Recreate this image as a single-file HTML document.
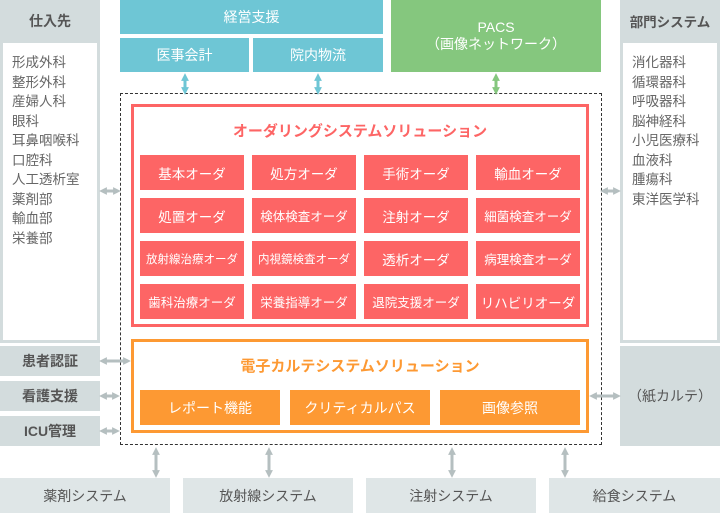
<!DOCTYPE html><html><head><meta charset="utf-8"><style>
body{margin:0;width:720px;height:513px;position:relative;background:#fff;font-family:"Liberation Sans","Noto Sans CJK JP",sans-serif;overflow:hidden}
.a{position:absolute;display:flex;align-items:center;justify-content:center;box-sizing:border-box;text-align:center}
.g{background:#d3dcdd;color:#555;font-size:14px;font-weight:bold}
.w{background:#fff;position:absolute}
.list{position:absolute;font-size:13.5px;color:#666;line-height:19.5px}
.t{background:#6ec6d5;color:#fff;font-size:14px}
.r{background:#fd6565;color:#fff;font-size:13.5px;width:104px;height:35px}
.o{background:#fd9933;color:#fff;font-size:14px;width:140px;height:35px}
.b{background:#dfe6e7;color:#555;font-size:14px}
svg{position:absolute;left:0;top:0}
</style></head><body>
<div class="a g" style="left:0;top:0;width:100px;height:343px;align-items:flex-start;padding-top:11px">仕入先</div>
<div class="w" style="left:3px;top:43px;width:94px;height:297px"></div>
<div class="list" style="left:12px;top:53px">形成外科<br>整形外科<br>産婦人科<br>眼科<br>耳鼻咽喉科<br>口腔科<br>人工透析室<br>薬剤部<br>輸血部<br>栄養部</div>
<div class="a g" style="left:620px;top:0;width:100px;height:343px;align-items:flex-start;padding-top:11px;font-size:13.5px">部門システム</div>
<div class="w" style="left:623px;top:43px;width:94px;height:297px"></div>
<div class="list" style="left:632px;top:53px">消化器科<br>循環器科<br>呼吸器科<br>脳神経科<br>小児医療科<br>血液科<br>腫瘍科<br>東洋医学科</div>
<div class="a g" style="left:0;top:346px;width:100px;height:30px">患者認証</div>
<div class="a g" style="left:0;top:381px;width:100px;height:30px">看護支援</div>
<div class="a g" style="left:0;top:416px;width:100px;height:30px">ICU管理</div>
<div class="a g" style="left:620px;top:346px;width:100px;height:100px;font-weight:normal;color:#555;font-size:14px">（紙カルテ）</div>
<div class="a t" style="left:120px;top:0;width:263px;height:34px">経営支援</div>
<div class="a t" style="left:120px;top:38px;width:129px;height:34px">医事会計</div>
<div class="a t" style="left:253px;top:38px;width:130px;height:34px">院内物流</div>
<div class="a" style="left:391px;top:0;width:210px;height:72px;background:#85c77e;color:#fff;font-size:14px;line-height:17px">PACS<br>（画像ネットワーク）</div>
<div style="position:absolute;left:120px;top:93px;width:482px;height:352px;border:1px dashed #333;box-sizing:border-box"></div>
<div style="position:absolute;left:131px;top:104px;width:458px;height:223px;border:3px solid #fd6565;box-sizing:border-box"></div>
<div class="a" style="left:131px;top:119px;width:458px;height:22px;color:#fd6565;font-size:15px;font-weight:bold">オーダリングシステムソリューション</div>
<div class="a r" style="left:140px;top:155px">基本オーダ</div><div class="a r" style="left:252px;top:155px">処方オーダ</div><div class="a r" style="left:364px;top:155px">手術オーダ</div><div class="a r" style="left:476px;top:155px">輸血オーダ</div>
<div class="a r" style="left:140px;top:198px">処置オーダ</div><div class="a r" style="left:252px;top:198px;font-size:12.5px">検体検査オーダ</div><div class="a r" style="left:364px;top:198px">注射オーダ</div><div class="a r" style="left:476px;top:198px;font-size:12.5px">細菌検査オーダ</div>
<div class="a r" style="left:140px;top:241px;font-size:11.5px">放射線治療オーダ</div><div class="a r" style="left:252px;top:241px;font-size:11.5px">内視鏡検査オーダ</div><div class="a r" style="left:364px;top:241px">透析オーダ</div><div class="a r" style="left:476px;top:241px;font-size:12.5px">病理検査オーダ</div>
<div class="a r" style="left:140px;top:284px;font-size:12.5px">歯科治療オーダ</div><div class="a r" style="left:252px;top:284px;font-size:12.5px">栄養指導オーダ</div><div class="a r" style="left:364px;top:284px;font-size:12.5px">退院支援オーダ</div><div class="a r" style="left:476px;top:284px">リハビリオーダ</div>
<div style="position:absolute;left:131px;top:339px;width:458px;height:94px;border:3px solid #fd9933;box-sizing:border-box"></div>
<div class="a" style="left:131px;top:354px;width:458px;height:22px;color:#fd9933;font-size:15px;font-weight:bold">電子カルテシステムソリューション</div>
<div class="a o" style="left:140px;top:390px">レポート機能</div><div class="a o" style="left:290px;top:390px">クリティカルパス</div><div class="a o" style="left:440px;top:390px">画像参照</div>
<div class="a b" style="left:0;top:478px;width:170px;height:35px">薬剤システム</div>
<div class="a b" style="left:183px;top:478px;width:170px;height:35px">放射線システム</div>
<div class="a b" style="left:366px;top:478px;width:170px;height:35px">注射システム</div>
<div class="a b" style="left:549px;top:478px;width:171px;height:35px">給食システム</div>
<svg width="720" height="513">
<defs>
<marker id="h" viewBox="0 0 10 10" refX="5" refY="5" markerWidth="2.6" markerHeight="2.6" orient="auto-start-reverse"><path d="M0,0L10,5L0,10z" fill="context-stroke"/></marker>
</defs>
<g stroke-width="3" fill="none">
<g stroke="#6ec6d5"><path d="M185,77V91" marker-start="url(#h)" marker-end="url(#h)"/><path d="M318,77V91" marker-start="url(#h)" marker-end="url(#h)"/></g>
<path stroke="#85c77e" d="M496,77V91" marker-start="url(#h)" marker-end="url(#h)"/>
<g stroke="#b5bfc0">
<path d="M103,191H117" marker-start="url(#h)" marker-end="url(#h)"/>
<path d="M604,191H617" marker-start="url(#h)" marker-end="url(#h)"/>
<path d="M103,361H127" marker-start="url(#h)" marker-end="url(#h)"/>
<path d="M103,396H116" marker-start="url(#h)" marker-end="url(#h)"/>
<path d="M103,431H116" marker-start="url(#h)" marker-end="url(#h)"/>
<path d="M593,396H617" marker-start="url(#h)" marker-end="url(#h)"/>
<path d="M156,451V474" marker-start="url(#h)" marker-end="url(#h)"/>
<path d="M269,451V474" marker-start="url(#h)" marker-end="url(#h)"/>
<path d="M452,451V474" marker-start="url(#h)" marker-end="url(#h)"/>
<path d="M565,451V474" marker-start="url(#h)" marker-end="url(#h)"/>
</g></g></svg>
</body></html>
